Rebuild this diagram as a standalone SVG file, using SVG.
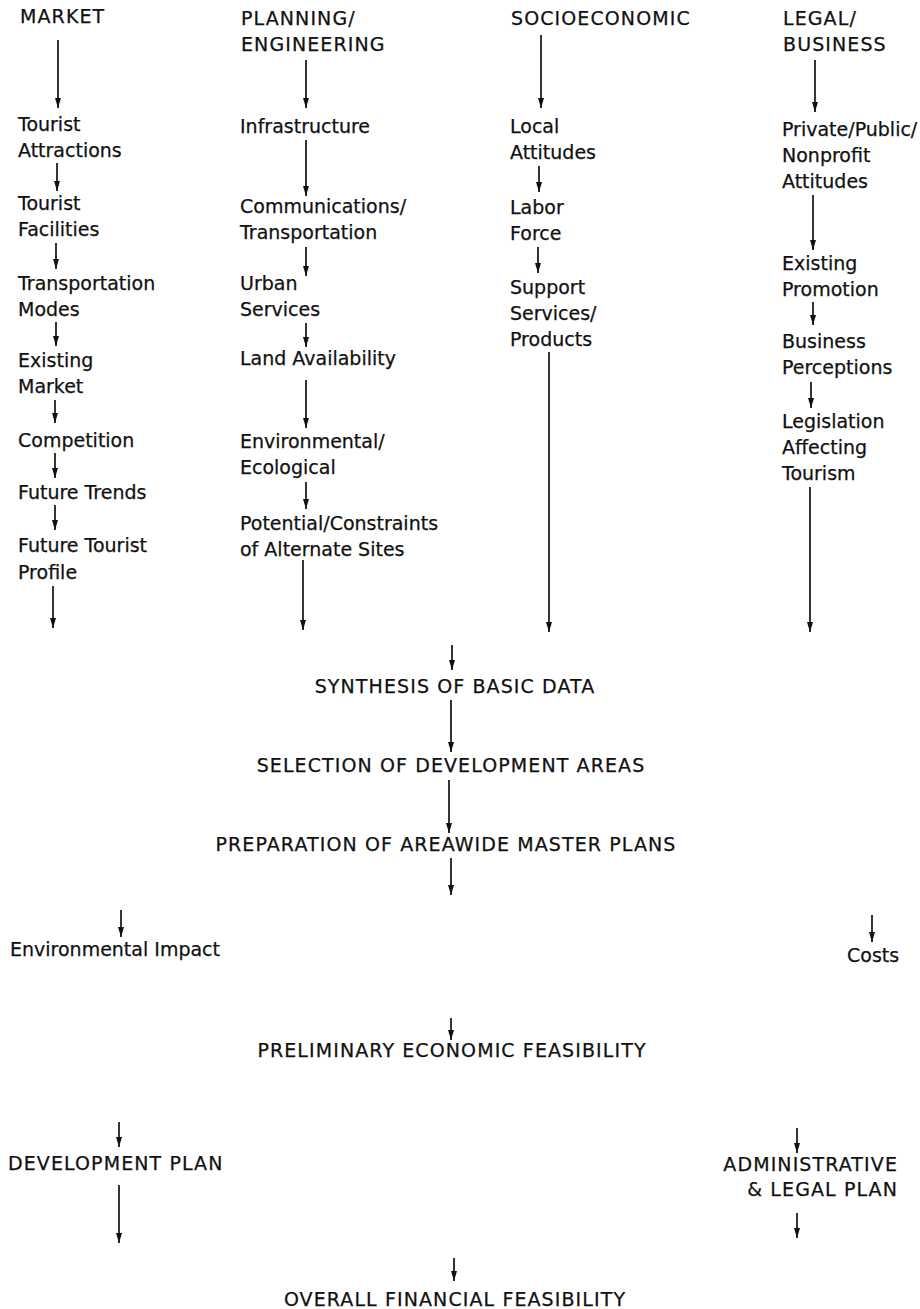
<svg xmlns="http://www.w3.org/2000/svg" width="920" height="1309" viewBox="0 0 920 1309">
  <style>
    text { font-family: "DejaVu Sans", "Liberation Sans", sans-serif; font-size: 19px; fill: #111; stroke: #111; stroke-width: 0.25; }
    .cap { letter-spacing: 1.1px; }
    .mid { text-anchor: middle; }
    .end { text-anchor: end; }
    #connectors line { stroke: #111; stroke-width: 1.7; marker-end: url(#head); }
  </style>
  <defs>
    <marker id="head" viewBox="0 0 10 6" refX="10" refY="3" markerWidth="10" markerHeight="6" markerUnits="userSpaceOnUse" orient="auto">
      <path d="M0,0 L10,3 L0,6 z" fill="#111"/>
    </marker>
  </defs>
  <rect width="920" height="1309" fill="#fff"/>

  <!-- Column 1: market -->
  <g id="market"><text x="20" y="23" class="cap">MARKET</text></g>
  <g id="tourist-attractions"><text x="18" y="131">Tourist</text><text x="18" y="157">Attractions</text></g>
  <g id="tourist-facilities"><text x="18" y="210">Tourist</text><text x="18" y="236">Facilities</text></g>
  <g id="transportation-modes"><text x="18" y="290">Transportation</text><text x="18" y="316">Modes</text></g>
  <g id="existing-market"><text x="18" y="367">Existing</text><text x="18" y="393">Market</text></g>
  <g id="competition"><text x="18" y="447">Competition</text></g>
  <g id="future-trends"><text x="18" y="499">Future Trends</text></g>
  <g id="future-profile"><text x="18" y="552">Future Tourist</text><text x="18" y="579">Profile</text></g>

  <!-- Column 2: planning / engineering -->
  <g id="planning"><text x="241" y="25" class="cap">PLANNING/</text><text x="241" y="51" class="cap">ENGINEERING</text></g>
  <g id="infrastructure"><text x="240" y="133">Infrastructure</text></g>
  <g id="communications"><text x="240" y="213">Communications/</text><text x="240" y="239">Transportation</text></g>
  <g id="urban-services"><text x="240" y="290">Urban</text><text x="240" y="316">Services</text></g>
  <g id="land-availability"><text x="240" y="365">Land Availability</text></g>
  <g id="environmental"><text x="240" y="448">Environmental/</text><text x="240" y="474">Ecological</text></g>
  <g id="alternate-sites"><text x="240" y="530">Potential/Constraints</text><text x="240" y="556">of Alternate Sites</text></g>

  <!-- Column 3: socioeconomic -->
  <g id="socioeconomic"><text x="511" y="25" class="cap">SOCIOECONOMIC</text></g>
  <g id="local-attitudes"><text x="510" y="133">Local</text><text x="510" y="159">Attitudes</text></g>
  <g id="labor-force"><text x="510" y="214">Labor</text><text x="510" y="240">Force</text></g>
  <g id="support-services"><text x="510" y="294">Support</text><text x="510" y="320">Services/</text><text x="510" y="346">Products</text></g>

  <!-- Column 4: legal / business -->
  <g id="legal"><text x="783" y="25" class="cap">LEGAL/</text><text x="783" y="51" class="cap">BUSINESS</text></g>
  <g id="sector-attitudes"><text x="782" y="136">Private/Public/</text><text x="782" y="162">Nonprofit</text><text x="782" y="188">Attitudes</text></g>
  <g id="existing-promotion"><text x="782" y="270">Existing</text><text x="782" y="296">Promotion</text></g>
  <g id="business-perceptions"><text x="782" y="348">Business</text><text x="782" y="374">Perceptions</text></g>
  <g id="legislation"><text x="782" y="428">Legislation</text><text x="782" y="454">Affecting</text><text x="782" y="480">Tourism</text></g>

  <!-- Central sequence -->
  <g id="synthesis"><text x="455" y="693" class="cap mid">SYNTHESIS OF BASIC DATA</text></g>
  <g id="selection"><text x="451" y="772" class="cap mid">SELECTION OF DEVELOPMENT AREAS</text></g>
  <g id="master-plans"><text x="446" y="851" class="cap mid">PREPARATION OF AREAWIDE MASTER PLANS</text></g>
  <g id="environmental-impact"><text x="10" y="956">Environmental Impact</text></g>
  <g id="costs"><text x="847" y="962">Costs</text></g>
  <g id="economic-feasibility"><text x="452" y="1057" class="cap mid">PRELIMINARY ECONOMIC FEASIBILITY</text></g>
  <g id="development-plan"><text x="8" y="1170" class="cap">DEVELOPMENT PLAN</text></g>
  <g id="admin-legal-plan"><text x="898" y="1171" class="cap end">ADMINISTRATIVE</text><text x="898" y="1196" class="cap end">&amp; LEGAL PLAN</text></g>
  <g id="financial-feasibility"><text x="455" y="1306" class="cap mid">OVERALL FINANCIAL FEASIBILITY</text></g>

  <g id="connectors">
    <!-- column 1 -->
    <line x1="58" y1="40" x2="58" y2="108"/>
    <line x1="57" y1="163" x2="57" y2="191"/>
    <line x1="56" y1="243" x2="56" y2="269"/>
    <line x1="56" y1="322" x2="56" y2="346"/>
    <line x1="55" y1="400" x2="55" y2="423"/>
    <line x1="55" y1="453" x2="55" y2="478"/>
    <line x1="55" y1="505" x2="55" y2="530"/>
    <line x1="53" y1="586" x2="53" y2="628"/>
    <!-- column 2 -->
    <line x1="306" y1="60" x2="306" y2="108"/>
    <line x1="306" y1="140" x2="306" y2="196"/>
    <line x1="306" y1="247" x2="306" y2="276"/>
    <line x1="306" y1="323" x2="306" y2="347"/>
    <line x1="306" y1="380" x2="306" y2="428"/>
    <line x1="306" y1="482" x2="306" y2="509"/>
    <line x1="303" y1="560" x2="303" y2="630"/>
    <!-- column 3 -->
    <line x1="541" y1="35" x2="541" y2="108"/>
    <line x1="539" y1="166" x2="539" y2="192"/>
    <line x1="538" y1="247" x2="538" y2="273"/>
    <line x1="549" y1="352" x2="549" y2="632"/>
    <!-- column 4 -->
    <line x1="815" y1="60" x2="815" y2="112"/>
    <line x1="813" y1="195" x2="813" y2="250"/>
    <line x1="813" y1="302" x2="813" y2="325"/>
    <line x1="811" y1="382" x2="811" y2="408"/>
    <line x1="810" y1="487" x2="810" y2="632"/>
    <!-- central sequence -->
    <line x1="452" y1="645" x2="452" y2="670"/>
    <line x1="451" y1="700" x2="451" y2="752"/>
    <line x1="449" y1="780" x2="449" y2="833"/>
    <line x1="451" y1="858" x2="451" y2="895"/>
    <line x1="121" y1="910" x2="121" y2="937"/>
    <line x1="872" y1="915" x2="872" y2="942"/>
    <line x1="451" y1="1018" x2="451" y2="1040"/>
    <line x1="119" y1="1122" x2="119" y2="1147"/>
    <line x1="119" y1="1185" x2="119" y2="1243"/>
    <line x1="797" y1="1128" x2="797" y2="1153"/>
    <line x1="797" y1="1213" x2="797" y2="1238"/>
    <line x1="454" y1="1258" x2="454" y2="1281"/>
  </g>
</svg>
